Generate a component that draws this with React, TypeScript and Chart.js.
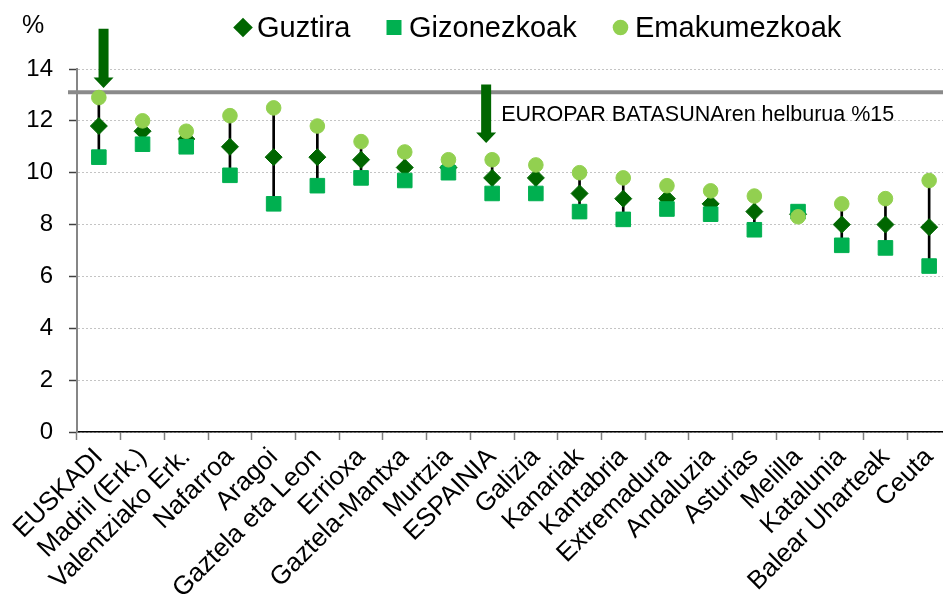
import React, { useEffect, useRef } from 'react';
import { Chart, registerables } from 'chart.js';

Chart.register(...registerables);

const FONT = '"Liberation Sans", Arial, Helvetica, sans-serif';

const categories = [
  'EUSKADI', 'Madril (Erk.)', 'Valentziako Erk.', 'Nafarroa', 'Aragoi',
  'Gaztela eta Leon', 'Errioxa', 'Gaztela-Mantxa', 'Murtzia', 'ESPAINIA',
  'Galizia', 'Kanariak', 'Kantabria', 'Extremadura', 'Andaluzia',
  'Asturias', 'Melilla', 'Katalunia', 'Balear Uharteak', 'Ceuta',
];
const guztira = [11.8, 11.6, 11.3, 11.0, 10.6, 10.6, 10.5, 10.2, 10.2, 9.8, 9.8, 9.2, 9.0, 9.0, 8.8, 8.5, 8.4, 8.0, 8.0, 7.9];
const gizonezkoak = [10.6, 11.1, 11.0, 9.9, 8.8, 9.5, 9.8, 9.7, 10.0, 9.2, 9.2, 8.5, 8.2, 8.6, 8.4, 7.8, 8.5, 7.2, 7.1, 6.4];
const emakumezkoak = [12.9, 12.0, 11.6, 12.2, 12.5, 11.8, 11.2, 10.8, 10.5, 10.5, 10.3, 10.0, 9.8, 9.5, 9.3, 9.1, 8.3, 8.8, 9.0, 9.7];
const yMin = 0;
const yMax = 14;
const yStep = 2;
const unitLabel = '%';
const goalValue = 13.1;
const goalLabel = 'EUROPAR BATASUNAren helburua %15';
const goalLabelCategory = 'ESPAINIA';
const goalLabelValue = 12.0;
const arrows = [
  { category: 'EUSKADI', from: 15.55, to: 13.27, dx: 4.7 },
  { category: 'ESPAINIA', from: 13.4, to: 11.15, dx: -6 },
];

const C_TOTAL = '#006600';
const C_MEN = '#00B050';
const C_WOMEN = '#92D050';

const ranges = categories.map((_, i) => {
  const vals = [guztira[i], gizonezkoak[i], emakumezkoak[i]];
  return [Math.min(...vals), Math.max(...vals)];
});

function drawArrow(ctx: CanvasRenderingContext2D, x: number, yTop: number, yTip: number, color: string) {
  const shaftHalf = 5;
  const headHalf = 10;
  const headLen = 10.5;
  ctx.save();
  ctx.fillStyle = color;
  ctx.beginPath();
  ctx.moveTo(x - shaftHalf, yTop);
  ctx.lineTo(x + shaftHalf, yTop);
  ctx.lineTo(x + shaftHalf, yTip - headLen);
  ctx.lineTo(x + headHalf, yTip - headLen);
  ctx.lineTo(x, yTip);
  ctx.lineTo(x - headHalf, yTip - headLen);
  ctx.lineTo(x - shaftHalf, yTip - headLen);
  ctx.closePath();
  ctx.fill();
  ctx.restore();
}

const legendLayout = [
  { markerX: 243, textX: 257 },
  { markerX: 394, textX: 409 },
  { markerX: 620.5, textX: 635 },
];

const overlayPlugin = {
  id: 'overlay',
  beforeDatasetsDraw(chart: any) {
    const { ctx, chartArea, scales } = chart;
    const y = scales.y.getPixelForValue(goalValue);
    ctx.save();
    ctx.strokeStyle = '#8a8a8a';
    ctx.lineWidth = 4;
    ctx.beginPath();
    ctx.moveTo(chartArea.left - 9, y);
    ctx.lineTo(chartArea.right, y);
    ctx.stroke();
    ctx.restore();
  },
  afterDraw(chart: any) {
    const { ctx, scales } = chart;
    arrows.forEach((a) => {
      const x = scales.x.getPixelForValue(categories.indexOf(a.category)) + a.dx;
      drawArrow(ctx, x, scales.y.getPixelForValue(a.from), scales.y.getPixelForValue(a.to), C_TOTAL);
    });
    ctx.save();
    ctx.fillStyle = '#000';
    ctx.font = `21.5px ${FONT}`;
    ctx.textBaseline = 'alphabetic';
    ctx.textAlign = 'left';
    const lx = scales.x.getPixelForValue(categories.indexOf(goalLabelCategory)) + 9;
    ctx.fillText(goalLabel, lx, scales.y.getPixelForValue(goalLabelValue));
    ctx.font = `25px ${FONT}`;
    ctx.fillText(unitLabel, 22, 33);
    const items = chart.data.datasets.filter((d: any) => d.type === 'line');
    ctx.font = `29px ${FONT}`;
    items.forEach((d: any, i: number) => {
      const pos = legendLayout[i];
      const cy = 27.5;
      ctx.fillStyle = d.backgroundColor;
      ctx.beginPath();
      if (d.pointStyle === 'rectRot') {
        const r = 9.8;
        ctx.moveTo(pos.markerX - r, cy);
        ctx.lineTo(pos.markerX, cy - r);
        ctx.lineTo(pos.markerX + r, cy);
        ctx.lineTo(pos.markerX, cy + r);
        ctx.closePath();
      } else if (d.pointStyle === 'rect') {
        ctx.rect(pos.markerX - 7.5, cy - 7.5, 15, 15);
      } else {
        ctx.arc(pos.markerX, cy, 7.8, 0, Math.PI * 2);
      }
      ctx.fill();
      ctx.fillStyle = '#000';
      ctx.fillText(d.label, pos.textX, 37);
    });
    ctx.restore();
  },
};

export default function App() {
  const ref = useRef<HTMLCanvasElement | null>(null);
  useEffect(() => {
    if (!ref.current) return;
    const chart = new Chart(ref.current, {
      type: 'bar',
      data: {
        labels: categories,
        datasets: [
          {
            type: 'line', label: 'Guztira', data: guztira, showLine: false,
            pointStyle: 'rectRot', pointRadius: 8.5, pointHoverRadius: 8.5,
            backgroundColor: C_TOTAL, borderColor: C_TOTAL, borderWidth: 1, order: 3,
          } as any,
          {
            type: 'line', label: 'Gizonezkoak', data: gizonezkoak, showLine: false,
            pointStyle: 'rect', pointRadius: 10.3, pointHoverRadius: 10.3,
            backgroundColor: C_MEN, borderColor: C_MEN, borderWidth: 1, order: 2,
          } as any,
          {
            type: 'line', label: 'Emakumezkoak', data: emakumezkoak, showLine: false,
            pointStyle: 'circle', pointRadius: 7.3, pointHoverRadius: 7.3,
            backgroundColor: C_WOMEN, borderColor: C_WOMEN, borderWidth: 1, order: 1,
          } as any,
          {
            type: 'bar', label: 'range', data: ranges as any, backgroundColor: '#000',
            barThickness: 2, borderWidth: 0, order: 4,
          } as any,
        ],
      },
      options: {
        responsive: false,
        animation: false,
        layout: { padding: { top: 69, right: 9, left: 0, bottom: 0 }, autoPadding: false } as any,
        plugins: { legend: { display: false }, tooltip: { enabled: false } },
        scales: {
          x: {
            type: 'category',
            offset: true,
            grid: { offset: true, drawOnChartArea: false, drawTicks: true, tickLength: 8, tickColor: '#808080', tickWidth: 1.5 },
            border: { color: '#000', width: 1.5 },
            ticks: { autoSkip: false, maxRotation: 45, minRotation: 45, font: { size: 26, family: FONT }, color: '#000', padding: 2 },
            afterFit: (s: any) => { s.height = 162; },
          },
          y: {
            min: yMin, max: yMax,
            ticks: { stepSize: yStep, font: { size: 24, family: FONT }, color: '#000', padding: 16 },
            grid: { color: '#c4c4c4', tickColor: '#404040', tickLength: 8, lineWidth: 1, tickWidth: 1.5 },
            border: { color: '#868686', width: 2, dash: [2, 2] },
            afterFit: (s: any) => { s.width = 77; },
          },
        },
      },
      plugins: [overlayPlugin],
    });
    return () => chart.destroy();
  }, []);
  return (
    <div style={{ position: 'absolute', left: 0, top: 0, width: 943, height: 594, overflow: 'hidden', background: '#fff' }}>
      <canvas ref={ref} width={960} height={594} style={{ display: 'block' }} />
    </div>
  );
}
